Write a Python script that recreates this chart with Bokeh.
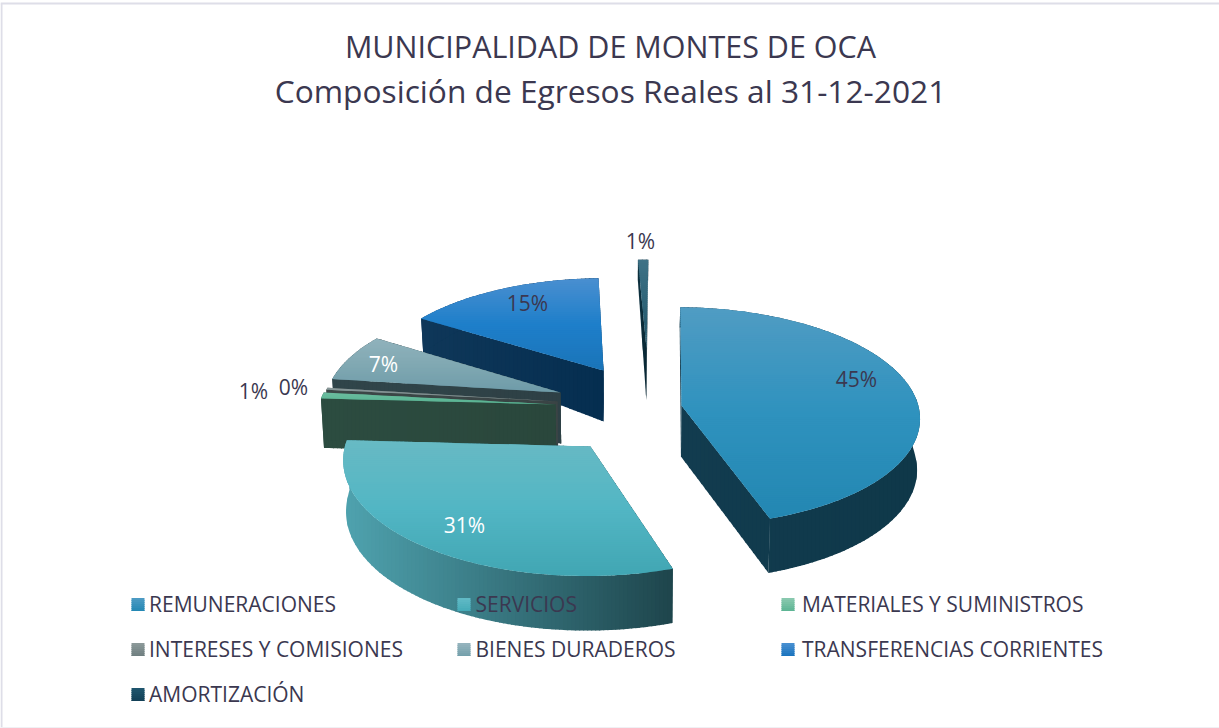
from math import sin, cos, radians
from bokeh.plotting import figure
from bokeh.models import Range1d
from bokeh.core.properties import value
from bokeh.embed import file_html
from bokeh.resources import INLINE

# ---- data -----
TITLE_LINES = ["MUNICIPALIDAD DE MONTES DE OCA", "Composición de Egresos Reales al 31-12-2021"]
CATEGORIES = ["REMUNERACIONES", "SERVICIOS", "MATERIALES Y SUMINISTROS",
              "INTERESES Y COMISIONES", "BIENES DURADEROS", "TRANSFERENCIAS CORRIENTES", "AMORTIZACIÓN"]
VALUES = [44.6, 31.0, 0.9, 0.3, 7.0, 15.4, 0.8]

# ---- style: gradients (top, middle, bottom) for the faces; (left, right) for the walls
TOP_GRAD = [("#509CC3", "#2F92BE", "#2387B2"), ("#68BAC4", "#52B6C4", "#41A6B3"),
            ("#6CBC9F", "#60B898", "#58B090"), ("#8A9A9B", "#7F8F90", "#707F80"),
            ("#90B2BC", "#80A8B2", "#6E9BA8"), ("#4A8FD0", "#1E7FCA", "#1A74B8"),
            ("#3F7286", "#2F6478", "#1F5266")]
WALL_GRAD = [("#123C4F", "#0F3849"), ("#4FA3AF", "#1E454C"), ("#2C4C40", "#2A473C"),
             ("#3C4747", "#3A4445"), ("#30454A", "#2E4045"), ("#0F3759", "#052E50"),
             ("#0D3140", "#082430")]
LABEL_COLORS = ["#3B3850", "#FFFFFF", "#3B3850", "#3B3850", "#FFFFFF", "#3B3850", "#3B3850"]
LEGEND_GRAD = [("#4E9CC4", "#2488B4"), ("#62BAC6", "#45ABB8"), ("#8CCAB0", "#5DB594"),
               ("#8D9A9A", "#6F7F80"), ("#97B5BF", "#73A0AB"), ("#4A90D2", "#1A74BE"),
               ("#1F566F", "#124057")]
TEXT = "#3B3850"
FONT = "Open Sans"
BORDER = "#DEDEE8"

# ---- layout: where each exploded slice's apex falls on the page, label offsets from it
APEX_X = [681, 590, 555, 557, 560, 603, 646]
APEX_Y = [405, 446, 404, 401, 392, 370, 348]
LABEL_DX = [175, -126, -302, -264, -177, -76, -6]
LABEL_DY = [-27, 78, -14, -15, -29, -68, -108]
DRAW_ORDER = [6, 5, 4, 3, 2, 1, 0]
LEGEND_X = [131, 457, 781]
LEGEND_DX = [17.5, 18, 20.5]
LEGEND_Y = [603, 648, 693]
FIRST_ANGLE = 1.0

# perspective of the tilted disc
X0, Y0, RX, RY, K = 625.0, 420.0, 240.0, 111.0, 0.10
DEPTH = 51.0
SHRINK = 0.99


def to_world(sx, sy):
    t = (Y0 - sy) / RY
    w = 1 / (1 - K * t)
    return (sx - X0) * w / RX, t * w


def project(x, y):
    w = 1 + K * y
    return X0 + RX * x / w, Y0 - RY * y / w


def clip(poly, axis, lo, hi):
    def cut(pts, keep, at):
        out = []
        for i, a in enumerate(pts):
            b = pts[(i + 1) % len(pts)]
            ka, kb = keep(a[axis]), keep(b[axis])
            if ka:
                out.append(a)
            if ka != kb:
                f = (at - a[axis]) / (b[axis] - a[axis])
                out.append((a[0] + f * (b[0] - a[0]), a[1] + f * (b[1] - a[1])))
        return out
    pts = cut(poly, lambda v: v >= lo, lo)
    if pts:
        pts = cut(pts, lambda v: v <= hi, hi)
    return pts


def mix(stops, f):
    f = min(max(f, 0.0), 1.0) * (len(stops) - 1)
    i = min(int(f), len(stops) - 2)
    f -= i
    a, b = stops[i], stops[i + 1]
    ch = [round(int(a[j:j + 2], 16) * (1 - f) + int(b[j:j + 2], 16) * f) for j in (1, 3, 5)]
    return "#%02X%02X%02X" % tuple(ch)


xs_all, ys_all, col_all = [], [], []


def add_gradient(poly, axis, stops, step, lo=None, hi=None):
    vals = [p[axis] for p in poly]
    mn, mx = min(vals), max(vals)
    lo = mn if lo is None else lo
    hi = mx if hi is None else hi
    v = mn
    while v < mx:
        piece = clip(poly, axis, v, min(v + step + 1.0, mx))
        if len(piece) >= 3:
            xs_all.append([p[0] for p in piece])
            ys_all.append([p[1] for p in piece])
            col_all.append(mix(stops, (v + step / 2 - lo) / max(hi - lo, 1e-6)))
        v += step


def lower(pt, local_y):
    d = DEPTH * (1 - 0.6 * local_y) if local_y > 0 else DEPTH * (1 - 0.07 * local_y)
    return X0 + (pt[0] - X0) * SHRINK, pt[1] + d


total = sum(VALUES)
angles = [FIRST_ANGLE]
for v in VALUES:
    angles.append(angles[-1] + 360.0 * v / total)

for i in DRAW_ORDER:
    a0, a1 = angles[i], angles[i + 1]
    wx, wy = to_world(APEX_X[i], APEX_Y[i])
    n = max(int((a1 - a0) / 1.5), 2)
    thetas = [a0 + (a1 - a0) * j / n for j in range(n + 1)]
    apex = (float(APEX_X[i]), float(APEX_Y[i]))
    rim = [project(wx + sin(radians(t)), wy + cos(radians(t))) for t in thetas]
    rim_y = [cos(radians(t)) for t in thetas]
    apex_low = lower(apex, 0.0)
    rim_low = [lower(p, y) for p, y in zip(rim, rim_y)]
    # walls: two radial sides first, then the curved outside
    radial0 = [apex, rim[0], rim_low[0], apex_low]
    radial1 = [apex, rim[-1], rim_low[-1], apex_low]
    arc = rim + rim_low[::-1]
    all_x = [p[0] for p in rim + rim_low + [apex, apex_low]]
    lo, hi = min(all_x), max(all_x)
    for wall in (radial0, radial1, arc):
        add_gradient(wall, 0, WALL_GRAD[i], 4.0, lo, hi)
    add_gradient([apex] + rim, 1, TOP_GRAD[i], 2.0)

# legend swatches
for i, name in enumerate(CATEGORIES):
    lx, ly = LEGEND_X[i % 3], LEGEND_Y[i // 3] + 1
    add_gradient([(lx, ly - 6.5), (lx + 13, ly - 6.5), (lx + 13, ly + 6.5), (lx, ly + 6.5)],
                 1, LEGEND_GRAD[i], 2.0)

p = figure(width=1219, height=728, output_backend="svg", toolbar_location=None,
           x_range=Range1d(0, 1219), y_range=Range1d(728, 0),
           min_border=0, outline_line_color=None, background_fill_color="#FFFFFF",
           border_fill_color="#FFFFFF")
p.axis.visible = False
p.grid.visible = False

# frame of the chart area
p.line([1, 1], [3, 728], line_color=BORDER, line_width=2)
p.line([0, 1219], [3, 3], line_color=BORDER, line_width=2)
p.line([0, 1219], [727, 727], line_color="#F0F0F4", line_width=1)

p.patches(xs_all, ys_all, fill_color=col_all, line_color=None)

# legend labels
p.text([LEGEND_X[i % 3] + LEGEND_DX[i % 3] for i in range(7)], [LEGEND_Y[i // 3] for i in range(7)],
       text=CATEGORIES, text_font=value(FONT), text_font_size="21px",
       text_color=TEXT, text_baseline="middle", text_align="left")

# slice labels
p.text([APEX_X[i] + LABEL_DX[i] for i in range(7)], [APEX_Y[i] + LABEL_DY[i] for i in range(7)],
       text=["%d%%" % round(v) for v in VALUES], text_font=value(FONT), text_font_size="21px",
       text_color=LABEL_COLORS, text_baseline="middle", text_align="center")

# title
p.text([610], [45], text=TITLE_LINES[:1], text_font=value(FONT), text_font_size="30.5px",
       text_color=TEXT, text_baseline="middle", text_align="center")
p.text([610], [90], text=TITLE_LINES[1:], text_font=value(FONT), text_font_size="31.7px",
       text_color=TEXT, text_baseline="middle", text_align="center")

open("out.html", "w").write(file_html(p, INLINE))
